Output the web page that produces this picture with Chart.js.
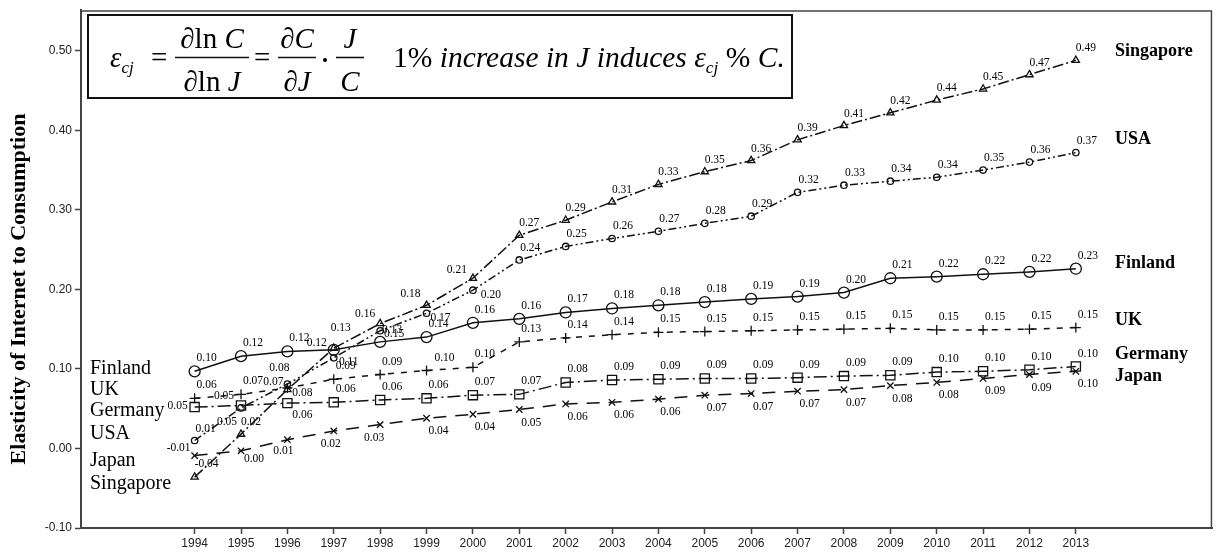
<!DOCTYPE html>
<html><head><meta charset="utf-8">
<script src="https://cdn.jsdelivr.net/npm/chart.js@4/dist/chart.umd.min.js"></script>
<style>html,body{margin:0;padding:0;background:#fff}#wrap{width:1220px;height:557px}</style>
</head><body><div id="wrap"><canvas id="c" width="1220" height="557"></canvas></div>
<script>
const years = [1994,1995,1996,1997,1998,1999,2000,2001,2002,2003,2004,2005,2006,2007,2008,2009,2010,2011,2012,2013];
const singapore = [-0.036,0.018,0.074,0.126,0.157,0.18,0.214,0.268,0.287,0.31,0.332,0.348,0.362,0.388,0.406,0.422,0.438,0.452,0.47,0.488];
const usa = [0.01,0.051,0.081,0.114,0.148,0.17,0.199,0.237,0.254,0.264,0.273,0.283,0.292,0.322,0.331,0.336,0.341,0.35,0.36,0.372];
const finland = [0.097,0.116,0.122,0.124,0.134,0.14,0.158,0.163,0.171,0.176,0.18,0.184,0.188,0.191,0.196,0.214,0.216,0.219,0.222,0.226];
const uk = [0.063,0.068,0.076,0.087,0.093,0.098,0.102,0.134,0.139,0.143,0.146,0.147,0.148,0.149,0.15,0.151,0.149,0.149,0.15,0.152];
const germany = [0.052,0.054,0.057,0.058,0.061,0.063,0.067,0.068,0.083,0.086,0.087,0.088,0.088,0.089,0.091,0.092,0.096,0.097,0.099,0.103];
const japan = [-0.009,-0.003,0.011,0.022,0.03,0.038,0.043,0.049,0.056,0.058,0.062,0.067,0.069,0.072,0.074,0.079,0.083,0.088,0.093,0.097];
const seriesNames = ['Singapore','USA','Finland','UK','Germany','Japan'];
const leftLegendNames = ['Finland','UK','Germany','USA','Japan','Singapore'];
const yAxisTitle = 'Elasticity of Internet to Consumption';

const SERIF = "'Liberation Serif','Times New Roman',serif";
const SANS = "'Liberation Sans',Arial,sans-serif";
const INK = '#111';

const styles = {
  Singapore:{dash:[11,3,2,3], ps:'triangle', r:4.2, lab:[10,-12]},
  USA:{dash:[8,3,2,3,2,3], ps:'circle', r:3.2, lab:[11,-12]},
  Finland:{dash:[], ps:'circle', r:5.5, lab:[12,-13]},
  UK:{dash:[6,7], ps:'cross', r:5, lab:[12,-13]},
  Germany:{dash:[13,4,2,4], ps:'rect', r:6.5, lab:[12,-13]},
  Japan:{dash:[13,9], ps:'crossRot', r:4.5, lab:[12,13]}
};
// label placement tweaks for the crowded early years (series|year -> [dx,dy])
const labelTweaks = {
  'Germany|1994':[-17,-1], 'Japan|1994':[-16,-8], 'Singapore|1994':[12,-13],
  'Germany|1995':[-17,-10], 'USA|1995':[-14,14], 'Japan|1995':[13,8],
  'Japan|1996':[-4,11], 'Germany|1996':[15,12], 'UK|1996':[15,5], 'USA|1996':[-8,-16], 'Singapore|1996':[-14,-8],
  'Finland|1997':[-17,-7], 'Singapore|1997':[7,-20], 'USA|1997':[15,4], 'Japan|1997':[-3,13], 'Japan|1998':[-6,13],
  'Singapore|1998':[-15,-10], 'USA|1998':[14,3], 'Finland|1998':[12,-12],
  'Singapore|1999':[-16,-11], 'USA|1999':[14,5], 'UK|1999':[18,-13],
  'Singapore|2000':[-16,-8], 'USA|2000':[18,5]
};
const seriesData = {Singapore:singapore, USA:usa, Finland:finland, UK:uk, Germany:germany, Japan:japan};

const datasets = seriesNames.map(n => ({
  label:n,
  data: years.map((x,i)=>({x, y:seriesData[n][i]})),
  borderColor:INK, borderWidth:1.5, borderDash:styles[n].dash,
  pointStyle:styles[n].ps, pointRadius:styles[n].r, pointBorderWidth:1.3,
  pointBorderColor:INK, pointBackgroundColor:'rgba(255,255,255,0)',
  tension:0, fill:false
}));

function fmt(v){ let s=v.toFixed(2); if(s==='-0.00') s='0.00'; return s; }

function runsWidth(ctx, runs){ let w=0; for(const r of runs){ ctx.font=r[0]; w+=ctx.measureText(r[1]).width; } return w; }
function drawRuns(ctx, runs, x, y, align){
  let w = runsWidth(ctx, runs);
  let cx = align==='center' ? x - w/2 : x;
  ctx.textAlign='left';
  for(const r of runs){ ctx.font=r[0]; ctx.fillText(r[1], cx, y + (r[2]||0)); cx += ctx.measureText(r[1]).width; }
}

function drawFormula(ctx){
  ctx.save();
  ctx.strokeStyle=INK; ctx.lineWidth=2;
  ctx.strokeRect(88,15,704,83);
  ctx.fillStyle='#000'; ctx.textBaseline='alphabetic';
  const S=29;
  const it=`italic ${S}px ${SERIF}`, rm=`${S}px ${SERIF}`, sub=`italic 17px ${SERIF}`;
  const base=67;
  drawRuns(ctx, [[it,'ε'],[sub,'cj',6]], 110, base, 'left');
  ctx.font=rm; ctx.textAlign='left'; ctx.fillText('=',151,base);
  function frac(cx, num, den, x0, x1){
    drawRuns(ctx, num, cx, 48, 'center');
    drawRuns(ctx, den, cx, 91, 'center');
    ctx.beginPath(); ctx.lineWidth=1.6; ctx.moveTo(x0,57.5); ctx.lineTo(x1,57.5); ctx.stroke();
  }
  frac(212, [[rm,'∂'],[rm,'ln'],[it,' C']], [[rm,'∂'],[rm,'ln'],[it,' J']], 175, 249);
  ctx.font=rm; ctx.fillText('=',254,base);
  frac(297, [[rm,'∂'],[it,'C']], [[rm,'∂'],[it,'J']], 278, 316);
  ctx.beginPath(); ctx.arc(325,60,2,0,Math.PI*2); ctx.fill();
  frac(350, [[it,'J']], [[it,'C']], 336, 364);
  const mk=(s)=>{ const i=`italic ${s}px ${SERIF}`, r=`${s}px ${SERIF}`, sb=`italic ${s*0.59}px ${SERIF}`;
    return [[r,'1% '],[i,'increase in J induces '],[i,'ε'],[sb,'cj',6],[r,' % '],[i,'C.']]; };
  let w = runsWidth(ctx, mk(S));
  const S2 = S*392/w;
  drawRuns(ctx, mk(S2), 393, base, 'left');
  ctx.restore();
}

const annot = {
  id:'annot',
  afterDatasetsDraw(chart){
    const ctx=chart.ctx, ca=chart.chartArea;
    ctx.save();
    ctx.strokeStyle='#444'; ctx.lineWidth=1.5;
    ctx.beginPath(); ctx.moveTo(ca.left, ca.top+0.75); ctx.lineTo(ca.right-0.75, ca.top+0.75); ctx.lineTo(ca.right-0.75, ca.bottom); ctx.stroke();
    ctx.fillStyle='#000'; ctx.font=`11.5px ${SERIF}`; ctx.textAlign='center'; ctx.textBaseline='middle';
    chart.data.datasets.forEach((ds,di)=>{
      const meta=chart.getDatasetMeta(di);
      meta.data.forEach((pt,i)=>{
        const off = labelTweaks[ds.label+'|'+ds.data[i].x] || styles[ds.label].lab;
        ctx.fillText(fmt(ds.data[i].y), pt.x+off[0], pt.y+off[1]);
      });
    });
    const rightOff={Singapore:-9,USA:-13,Finland:-5,UK:-7,Germany:-12,Japan:5};
    ctx.font=`bold 18px ${SERIF}`; ctx.textAlign='left';
    chart.data.datasets.forEach((ds,di)=>{
      const meta=chart.getDatasetMeta(di); const last=meta.data[meta.data.length-1];
      ctx.fillText(ds.label, 1115, last.y + rightOff[ds.label]);
    });
    ctx.font=`20px ${SERIF}`;
    const ly=[369,390,411,434,461,484];
    leftLegendNames.forEach((n,i)=>ctx.fillText(n, 90, ly[i]));
    ctx.save(); ctx.translate(19, 289); ctx.rotate(-Math.PI/2);
    ctx.font=`bold 22px ${SERIF}`; ctx.textAlign='center'; ctx.fillText(yAxisTitle,0,0);
    ctx.restore();
    drawFormula(ctx);
    ctx.restore();
  }
};

new Chart(document.getElementById('c'), {
  type:'line',
  data:{datasets},
  options:{
    responsive:false, animation:false, devicePixelRatio:1,
    layout:{padding:{left:0,top:7,right:2,bottom:0}},
    plugins:{legend:{display:false}, tooltip:{enabled:false}},
    scales:{
      x:{type:'linear', min:1991.55, max:2015.94,
        afterBuildTicks:(ax)=>{ ax.ticks = years.map(v=>({value:v})); },
        afterFit:(s)=>{ s.height=29; },
        grid:{drawOnChartArea:false, tickLength:6, tickColor:'#444', tickWidth:1.5},
        border:{color:'#444', width:2},
        ticks:{autoSkip:false, maxRotation:0, color:'#222', font:{family:SANS, size:12}, padding:2, callback:(v)=>String(v)}
      },
      y:{type:'linear', min:-0.1, max:0.551,
        afterFit:(s)=>{ s.width=81; },
        grid:{drawOnChartArea:false, tickLength:6, tickColor:'#444', tickWidth:1.5},
        border:{color:'#444', width:2},
        ticks:{stepSize:0.1, includeBounds:false, color:'#222', font:{family:SANS, size:12}, padding:3, callback:(v)=>v.toFixed(2)}
      }
    }
  },
  plugins:[annot]
});
</script></body></html>
